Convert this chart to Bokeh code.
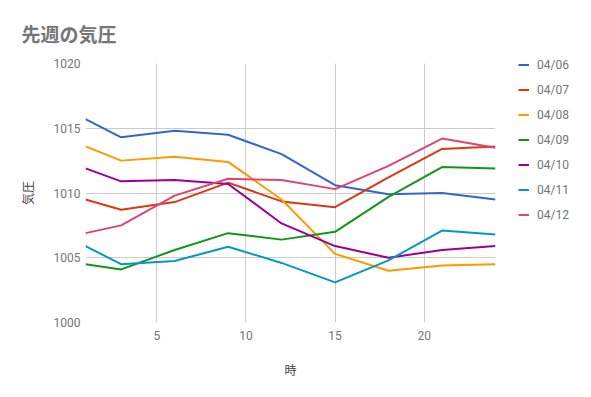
from bokeh.plotting import figure
from bokeh.models import Legend, LegendItem, FixedTicker, Range1d
from bokeh.embed import file_html
from bokeh.resources import INLINE

hours = [1, 3, 6, 9, 12, 15, 18, 21, 24]
dates = ["04/06", "04/07", "04/08", "04/09", "04/10", "04/11", "04/12"]
p0406 = [1015.7, 1014.3, 1014.8, 1014.5, 1013.0, 1010.6, 1009.9, 1010.0, 1009.5]
p0407 = [1009.5, 1008.7, 1009.3, 1010.8, 1009.35, 1008.9, 1011.2, 1013.4, 1013.6]
p0408 = [1013.6, 1012.5, 1012.8, 1012.4, 1009.5, 1005.3, 1004.0, 1004.4, 1004.5]
p0409 = [1004.5, 1004.1, 1005.6, 1006.9, 1006.4, 1007.0, 1009.7, 1012.0, 1011.9]
p0410 = [1011.9, 1010.9, 1011.0, 1010.7, 1007.65, 1005.9, 1005.0, 1005.6, 1005.9]
p0411 = [1005.9, 1004.5, 1004.75, 1005.85, 1004.6, 1003.1, 1004.8, 1007.1, 1006.8]
p0412 = [1006.9, 1007.5, 1009.8, 1011.1, 1011.0, 1010.3, 1012.1, 1014.2, 1013.5]
series = [p0406, p0407, p0408, p0409, p0410, p0411, p0412]
colors = ["#3366cc", "#dc3912", "#ff9900", "#109618", "#990099", "#0099c6", "#dd4477"]
x_ticks = [5, 10, 15, 20]
y_ticks = [1000, 1005, 1010, 1015, 1020]

p = figure(width=582, height=388, output_backend="svg", toolbar_location=None,
           x_range=Range1d(1, 24), y_range=Range1d(1000, 1020),
           frame_width=410, frame_height=259,
           min_border_left=85, min_border_right=86, min_border_top=63, min_border_bottom=66)

p.title.text = "先週の気圧"
p.title.text_font = "Noto Sans CJK JP"
p.title.text_font_size = "19px"
p.title.text_color = "#757575"
p.title.text_font_style = "bold"
p.title.offset = -64
p.title.standoff = 34

items = []
for name, vals, c in zip(dates, series, colors):
    r = p.line(hours, vals, line_color=c, line_width=2)
    items.append(LegendItem(label=name, renderers=[r]))

legend = Legend(items=items, location=(23, 100))
legend.border_line_alpha = 0
legend.background_fill_alpha = 0
legend.padding = 0
legend.margin = 0
legend.spacing = 10
legend.glyph_width = 11
legend.glyph_height = 15
legend.label_height = 15
legend.label_standoff = 8
legend.label_text_font = "Roboto"
legend.label_text_font_size = "12px"
legend.label_text_color = "#757575"
p.add_layout(legend, "right")

for ax in (p.xaxis[0], p.yaxis[0]):
    ax.axis_line_alpha = 0
    ax.major_tick_line_alpha = 0
    ax.minor_tick_line_alpha = 0
    ax.major_tick_out = 0
    ax.minor_tick_out = 0
    ax.major_label_text_font = "Roboto"
    ax.major_label_text_font_size = "12px"
    ax.major_label_text_color = "#757575"
    ax.axis_label_text_font = "Noto Sans CJK JP"
    ax.axis_label_text_font_size = "12px"
    ax.axis_label_text_font_style = "normal"
    ax.axis_label_text_color = "#444444"

p.xaxis[0].ticker = FixedTicker(ticks=x_ticks)
p.yaxis[0].ticker = FixedTicker(ticks=y_ticks)
p.xaxis[0].axis_label = "時"
p.yaxis[0].axis_label = "気圧"
p.xaxis[0].major_label_standoff = 8
p.yaxis[0].major_label_standoff = 5
p.xaxis[0].axis_label_standoff = 18
p.yaxis[0].axis_label_standoff = 15

p.xgrid.ticker = FixedTicker(ticks=x_ticks)
p.ygrid.ticker = FixedTicker(ticks=y_ticks)
p.grid.grid_line_color = "#cccccc"
p.grid.grid_line_width = 1
p.outline_line_alpha = 0

open("out.html", "w").write(file_html(p, INLINE))
